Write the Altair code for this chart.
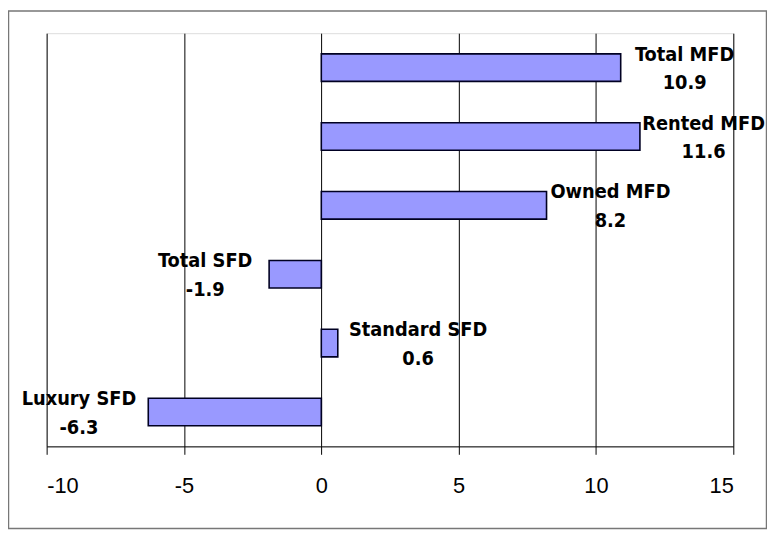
import altair as alt
import pandas as pd

categories = ["Total MFD", "Rented MFD", "Owned MFD", "Total SFD", "Standard SFD", "Luxury SFD"]
values = [10.9, 11.6, 8.2, -1.9, 0.6, -6.3]
x_ticks = [-10, -5, 0, 5, 10, 15]

df = pd.DataFrame({"name": categories, "value": values})

W, H = 693, 417
PXU = str(W / 25.0)
LABEL_FONT = "DejaVu Sans Condensed, Liberation Sans Narrow, Arial Narrow, sans-serif"

x_scale = alt.Scale(domain=[-10, 15], nice=False, zero=False)
y_scale = alt.Scale(domain=categories, paddingInner=0.6, paddingOuter=0.3)

bars = alt.Chart(df).mark_bar(
    color="#9999FF", stroke="#000022", strokeWidth=1.6, cornerRadius=0
).encode(
    x=alt.X("value:Q", scale=x_scale,
            axis=alt.Axis(values=x_ticks, title=None, grid=True, gridColor="#000000",
                          gridOpacity=1, gridWidth=1, domainColor="#000000",
                          domainWidth=1, tickColor="#000000", tickSize=8, tickWidth=1,
                          labelFontSize=22, labelFont="Liberation Sans, Arial, sans-serif",
                          labelColor="#000000", labelPadding=22,
                          labelExpr="'' + datum.value")),
    x2=alt.datum(0),
    y=alt.Y("name:N", scale=y_scale, sort=categories, axis=None),
)

labels = alt.Chart(df).transform_calculate(
    sgn="datum.value >= 0 ? 1 : -1",
    half="length(datum.name) * 5.5",
    raw="datum.value + datum.sgn * (15 + datum.half) / " + PXU,
    lx="min(datum.raw, 15 + (25 - datum.half) / " + PXU + ")",
    txt="[datum.name, '' + datum.value]",
).mark_text(
    font=LABEL_FONT, fontSize=20, fontWeight="bold", color="#000000",
    align="center", baseline="middle", lineHeight=29, dy=-13
).encode(
    x=alt.X("lx:Q", scale=x_scale),
    y=alt.Y("name:N", scale=y_scale, sort=categories),
    text="txt:N",
)

frame = alt.Chart(pd.DataFrame({"f": [0]})).mark_rect(
    fill=None, stroke="#777777", strokeWidth=1.5
).encode(
    x=alt.value(-38.5), x2=alt.value(726.5), y=alt.value(-22.5), y2=alt.value(500)
)

chart = alt.layer(bars, labels, frame).properties(
    width=W, height=H,
    autosize=alt.AutoSizeParams(type="none"),
    padding={"left": 39, "top": 23, "right": 34, "bottom": 84},
).configure_view(
    fill="#C0C0C0", stroke=None
).configure(background="#FFFFFF")

chart.save("out.html", embed_options={"renderer": "svg", "actions": False})
